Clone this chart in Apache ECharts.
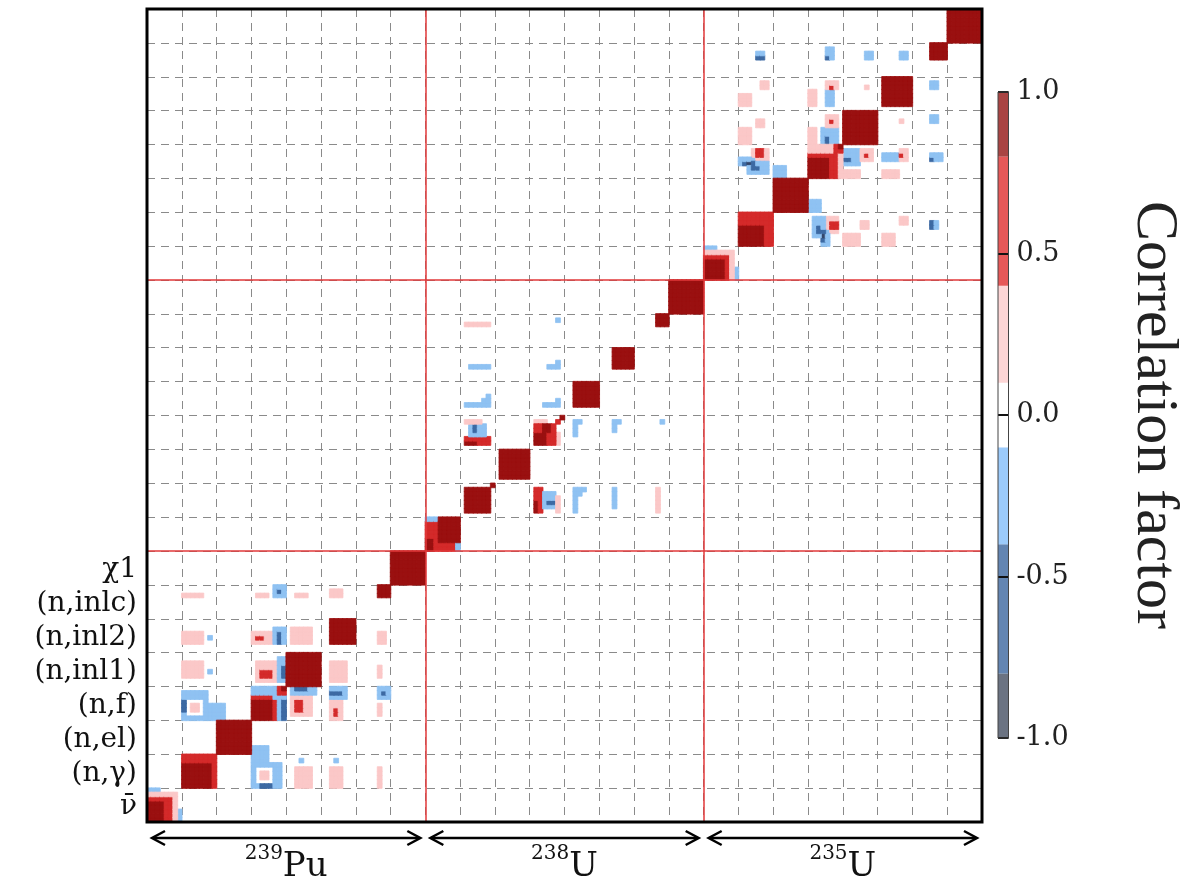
<!DOCTYPE html>
<html>
<head>
<meta charset="utf-8">
<script src="https://cdn.jsdelivr.net/npm/echarts@6/dist/echarts.min.js"></script>
<style>
  html, body { margin: 0; padding: 0; background: #fff; }
  #main { width: 1183px; height: 887px; }
</style>
</head>
<body>
<div id="main"></div>
<script>
// isotopes along both axes, each split into the same reactions
var isotopeMass = ['239', '238', '235'];
var isotopeElement = ['Pu', 'U', 'U'];
var reactions = ['\u03bd', '(n,\u03b3)', '(n,el)', '(n,f)', '(n,inl1)', '(n,inl2)', '(n,inlc)', '\u03c71'];
var groups = 8; // energy groups per reaction

// colour levels of the correlation factor
var levels = [-1, -0.8, -0.4, -0.1, 0.1, 0.4, 0.8, 1];
var colorbarTicks = [-1, -0.5, 0, 0.5, 1];

// blocks: [group col, group row, width, height, correlation]
// group indices are inside one isotope (0..63), row 0 at the bottom
var puDiag = [
  [0, 7, 3, 1, -0.3], [7, 0, 1, 3, -0.3], [0, 0, 7, 7, 0.3], [0, 0, 6, 6, 0.6], [0, 0, 4, 5, 0.9],
  [8, 8, 8, 8, 0.6], [8, 8, 7, 6, 0.9],
  [16, 16, 8, 8, 0.95],
  [24, 24, 8, 8, -0.3], [31, 24, 1, 5, -0.6], [24, 24, 6, 5, 0.9], [24, 29, 5, 1, 0.6], [29, 24, 1, 5, 0.6], [30, 30, 2, 2, 0.6], [31, 31, 1, 1, 0.9],
  [32, 32, 8, 8, 0.95],
  [42, 42, 6, 6, 0.95],
  [53, 53, 3, 3, 0.95],
  [56, 56, 8, 8, 0.95]
];
var puOff = [
  [8, 24, 6, 7, -0.3], [14, 24, 4, 4, -0.3], [8, 26, 1, 3, -0.6], [9, 25, 4, 4, 0], [10, 26, 2, 2, 0.3],
  [8, 34, 5, 4, 0.3], [14, 35, 1, 1, -0.3],
  [25, 33, 6, 5, 0.3], [26, 34, 3, 2, 0.6], [30, 33, 2, 6, -0.3], [31, 34, 1, 3, -0.6],
  [8, 42, 5, 3, 0.3], [14, 43, 1, 1, -0.3],
  [24, 42, 5, 3, 0.3], [25, 43, 2, 1, 0.6], [29, 42, 3, 4, -0.3], [30, 42, 1, 3, -0.6],
  [33, 42, 5, 4, 0.3],
  [8, 53, 5, 1, 0.3], [25, 53, 3, 1, 0.3], [29, 53, 3, 3, -0.3], [30, 54, 1, 1, -0.6], [34, 53, 3, 1, 0.3], [42, 53, 3, 2, 0.3]
];
var u238Diag = [
  [0, 0, 8, 8, 0.6], [3, 2, 5, 6, 0.9], [0, 0, 2, 3, 0.9], [0, 7, 3, 1, -0.3], [7, 0, 1, 2, -0.3],
  [9, 9, 6, 6, 0.95], [15, 15, 1, 1, 0.95],
  [17, 17, 7, 7, 0.95],
  [25, 30, 3, 1, 0.3], [30, 25, 1, 3, 0.3], [25, 25, 5, 5, 0.6], [25, 25, 3, 3, 0.9], [27, 28, 2, 2, 0.9], [30, 30, 1, 1, 0.6], [31, 31, 1, 1, 0.9],
  [34, 34, 6, 6, 0.95],
  [43, 43, 5, 5, 0.95],
  [53, 53, 3, 3, 0.95],
  [56, 56, 8, 8, 0.95]
];
var u238Off = [
  [9, 25, 6, 2, 0.6], [9, 25, 3, 1, 0.9], [10, 27, 4, 3, -0.3], [11, 28, 1, 2, -0.6], [9, 30, 4, 1, 0.3],
  [9, 34, 6, 1, -0.3], [13, 35, 2, 1, -0.3], [14, 36, 1, 1, -0.3],
  [27, 34, 3, 1, -0.3], [30, 34, 1, 2, -0.3],
  [10, 43, 5, 1, -0.3], [28, 43, 3, 1, -0.3], [30, 44, 1, 1, -0.3],
  [9, 53, 6, 1, 0.3], [30, 54, 1, 1, -0.3]
];
var u235Diag = [
  [0, 7, 3, 1, -0.3], [7, 0, 1, 3, -0.3], [0, 0, 7, 7, 0.3], [0, 0, 6, 6, 0.6], [0, 0, 5, 5, 0.9],
  [8, 8, 8, 8, 0.6], [8, 8, 6, 5, 0.9],
  [16, 16, 8, 8, 0.95],
  [24, 24, 8, 8, 0.3], [24, 24, 7, 6, 0.6], [24, 24, 5, 5, 0.9], [30, 30, 2, 2, 0.6], [31, 31, 1, 1, 0.9],
  [32, 32, 8, 8, 0.95],
  [41, 41, 7, 7, 0.95],
  [52, 52, 4, 4, 0.95],
  [56, 56, 8, 8, 0.95]
];
var u235Off = [
  [11, 28, 4, 3, 0.3], [12, 29, 2, 2, 0.6], [8, 27, 4, 2, -0.3], [10, 25, 5, 3, -0.3], [9, 27, 3, 1, -0.6], [11, 26, 2, 1, -0.6], [10, 27, 1, 1, -0.9], [16, 24, 3, 3, -0.3],
  [8, 32, 3, 4, 0.3], [12, 36, 2, 2, 0.3],
  [24, 32, 2, 4, 0.3], [27, 32, 4, 4, -0.3], [28, 32, 1, 2, -0.6], [28, 36, 3, 3, 0.3], [29, 37, 1, 1, 0.6],
  [8, 41, 3, 3, 0.3], [13, 45, 2, 2, 0.3],
  [24, 41, 2, 4, 0.3], [28, 41, 2, 4, -0.3], [28, 45, 3, 2, 0.3], [29, 45, 1, 1, 0.6],
  [37, 45, 1, 1, 0.3],
  [12, 52, 2, 2, -0.3], [12, 52, 2, 1, -0.6], [28, 52, 2, 3, -0.3], [28, 52, 1, 1, -0.6], [37, 52, 2, 2, -0.3], [45, 52, 2, 2, -0.3]
];

var heatColors = ['#34466a', '#3d6aa3', '#8fc2f2', '#ffffff', '#fbc8c8', '#d42a2a', '#9a1010'];
var barColors = ['#6b7382', '#6385b2', '#9ccbfb', '#ffffff', '#fdd6d6', '#e65858', '#a94443'];
var serif = 'DejaVu Serif';

var perIso = reactions.length * groups;
var nCells = perIso * isotopeMass.length;
var cats = [];
for (var i = 0; i < nCells; i++) cats.push(String(i));

function levelColor(v) {
  for (var l = 0; l < levels.length - 1; l++) {
    if (v < levels[l + 1]) return heatColors[l];
  }
  return heatColors[heatColors.length - 1];
}

// expand the blocks to heatmap cells
var cells = {};
function put(x, y, v) {
  var key = x + ',' + y;
  if (Math.abs(v) < 0.1) delete cells[key];
  else cells[key] = [x, y, v];
}
function addRects(rects, offset, mirror) {
  rects.forEach(function (r) {
    for (var a = 0; a < r[2]; a++) {
      for (var b = 0; b < r[3]; b++) {
        put(offset + r[0] + a, offset + r[1] + b, r[4]);
        if (mirror) put(offset + r[1] + b, offset + r[0] + a, r[4]);
      }
    }
  });
}
[[puDiag, puOff], [u238Diag, u238Off], [u235Diag, u235Off]].forEach(function (iso, k) {
  addRects(iso[1], k * perIso, true);
  addRects(iso[0], k * perIso, false);
});
var heatData = Object.keys(cells).map(function (k) {
  var c = levelColor(cells[k][2]);
  return { value: cells[k], itemStyle: { color: c, borderColor: c, borderWidth: 0.8 } };
});

var bands = [];
for (var q = 0; q < levels.length - 1; q++) {
  bands.push([{ yAxis: levels[q], itemStyle: { color: barColors[q] } }, { yAxis: levels[q + 1] }]);
}

var nRx = reactions.length * isotopeMass.length;
var boundaries = [];
for (var s = 1; s < isotopeMass.length; s++) {
  boundaries.push({ xAxis: s * reactions.length }, { yAxis: s * reactions.length });
}

var dash = { color: '#8a8a8a', width: 1, type: [8, 6] };
var labelAt = function (idx) { return idx < perIso && idx % groups === 3; };

var chart = echarts.init(document.getElementById('main'));
chart.setOption({
  animation: false,
  grid: [
    { left: 147, top: 9, width: 835, height: 813, show: true, borderColor: '#000', borderWidth: 3, z: 10 },
    { left: 998, top: 92, width: 42, height: 646, show: true, borderColor: '#444', borderWidth: 1, z: 10 }
  ],
  xAxis: [
    { type: 'category', gridIndex: 0, data: cats, show: false },
    {
      type: 'value', gridIndex: 0, position: 'bottom', min: 0, max: nRx, interval: 1,
      axisLine: { show: false }, axisTick: { show: false },
      splitLine: { show: true, lineStyle: dash },
      axisLabel: {
        margin: 22,
        formatter: function (v) {
          var k = Math.floor(v / reactions.length);
          if (v % reactions.length !== reactions.length / 2) return '';
          return '{sup|' + isotopeMass[k] + '}{el|' + isotopeElement[k] + '}';
        },
        rich: {
          sup: { fontFamily: serif, fontSize: 20, color: '#111', verticalAlign: 'top', lineHeight: 40 },
          el: { fontFamily: serif, fontSize: 34, color: '#111', verticalAlign: 'bottom', lineHeight: 40 }
        }
      }
    },
    { type: 'value', gridIndex: 1, min: 0, max: 1, show: false }
  ],
  yAxis: [
    {
      type: 'category', gridIndex: 0, data: cats,
      axisLine: { show: false }, axisTick: { show: false }, splitLine: { show: false },
      axisLabel: {
        margin: 10, fontFamily: serif, fontSize: 28, color: '#111',
        interval: labelAt,
        formatter: function (v, idx) { return reactions[Math.floor(idx / groups)]; }
      }
    },
    {
      type: 'value', gridIndex: 0, min: 0, max: nRx, interval: 1,
      axisLine: { show: false }, axisTick: { show: false }, axisLabel: { show: false },
      splitLine: { show: true, lineStyle: dash }
    },
    {
      type: 'value', gridIndex: 1, min: -1, max: 1, interval: 0.5, position: 'right',
      axisLine: { show: false }, axisTick: { show: false }, splitLine: { show: false },
      axisLabel: {
        margin: 8, fontFamily: serif, fontSize: 27, color: '#222',
        formatter: function (v) { return v.toFixed(1); }
      },
      name: 'Correlation factor', nameLocation: 'middle', nameRotate: -90, nameGap: 115,
      nameTextStyle: { fontFamily: 'Liberation Serif', fontSize: 60, color: '#222' }
    },
    {
      // bar over the first label (nu-bar)
      type: 'category', gridIndex: 0, data: cats, position: 'left',
      axisLine: { show: false }, axisTick: { show: false }, splitLine: { show: false },
      axisLabel: {
        margin: 11, fontFamily: serif, fontSize: 28, color: '#111',
        interval: function (idx) { return idx === 3; },
        formatter: function () { return '\u00af'; }
      }
    }
  ],
  series: [
    {
      type: 'heatmap', xAxisIndex: 0, yAxisIndex: 0, data: heatData,
      progressive: 0, emphasis: { disabled: true }
    },
    {
      type: 'line', xAxisIndex: 1, yAxisIndex: 1, data: [], z: 6, silent: true,
      markLine: {
        silent: true, symbol: 'none', label: { show: false },
        lineStyle: { color: '#e2383a', width: 1.5, type: 'solid' },
        data: boundaries
      }
    },
    {
      type: 'line', xAxisIndex: 2, yAxisIndex: 2, data: [], silent: true,
      markArea: { silent: true, data: bands },
      markLine: {
        silent: true, symbol: 'none', label: { show: false },
        lineStyle: { color: '#111', width: 2, type: [13, 9] },
        data: colorbarTicks.map(function (t) { return { yAxis: t }; })
      }
    }
  ]
});

// double-headed arrows under each isotope
var yArrow = chart.convertToPixel({ yAxisIndex: 1 }, 0) + 16;
var arrows = [];
isotopeMass.forEach(function (m, k) {
  var x0 = chart.convertToPixel({ xAxisIndex: 1 }, k * reactions.length) + 5;
  var x1 = chart.convertToPixel({ xAxisIndex: 1 }, (k + 1) * reactions.length) - 5;
  var st = { stroke: '#000', lineWidth: 2.5, fill: null };
  arrows.push({ type: 'line', shape: { x1: x0 + 1, y1: yArrow, x2: x1 - 1, y2: yArrow }, style: st });
  arrows.push({ type: 'polyline', shape: { points: [[x0 + 13, yArrow - 7], [x0, yArrow], [x0 + 13, yArrow + 7]] }, style: st });
  arrows.push({ type: 'polyline', shape: { points: [[x1 - 13, yArrow - 7], [x1, yArrow], [x1 - 13, yArrow + 7]] }, style: st });
});
chart.setOption({ graphic: arrows });
window.addEventListener('resize', function () { chart.resize(); });
</script>
</body>
</html>
